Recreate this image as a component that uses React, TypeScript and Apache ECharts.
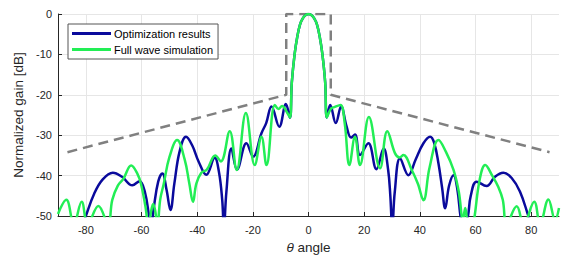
import React, { useEffect, useRef } from 'react';
import * as echarts from 'echarts';

const xTickValues = [-80, -60, -40, -20, 0, 20, 40, 60, 80];

const blueAngles = [
  -82, -80, -77, -74, -70.3, -67, -63.3, -60.7, -58.8, -57.3, -56.6, -55.6, -54, -52.5, -51, -49.6, -48.2, -46.3, -44,
  -41.8, -39.5, -36.7, -33.7, -32.2, -31, -30.4, -29.5, -27.7, -25.7, -22.3, -19.9, -16.9, -15.2, -13.3, -10.5, -8.1,
  -6.7, -6, -5, -4, -3, -2, -1, 0, 1, 2, 3, 4, 5, 6, 6.6, 7.8, 9.8, 11.7, 13.7, 15.3, 16.7, 18.5, 21.5, 24.4, 27, 28.6,
  29.4, 30.1, 31, 32.9, 35.9, 38.5, 41.3, 43.7, 45.2, 46.7, 48, 49.1, 50.5, 52.1, 53.5, 54.6, 55.8, 57.3, 58.3, 60.4,
  64, 67, 70, 73, 76, 79, 81,
];
const blueGain = [
  -54, -50, -44.5, -41, -39.3, -40.3, -42.4, -41.4, -44, -50, -53, -48, -41.5, -39.5, -43.5, -48.5, -42, -34, -30.4,
  -32.5, -36.5, -39.8, -35.6, -39, -46, -53, -44, -33.3, -38.5, -32, -35.3, -29.5, -27, -22.9, -27.9, -22.3,
  -25.7, -17, -10, -5.5, -2.5, -1, -0.25, 0, -0.25, -1, -2.5, -5.5, -10, -17, -25.6, -22.5, -27, -22.9, -27.9, -30.6, -29.8, -34.9, -32, -38.4, -33.3, -38.5,
  -45, -53, -44, -35.7, -39.9, -36, -32, -30.4, -32, -37, -43, -48.1, -42.5, -39.9, -43.5, -50, -54, -50, -45, -41.5,
  -42.6, -40.3, -39.3, -40.6, -44, -50, -54,
];

const greenAngles = [
  -90, -87, -84.3, -81.5, -79.3, -75.5, -72, -70.5, -68.5, -66.5, -63.7, -61.5, -60.2, -58.5, -57.5, -56.6, -55.8, -55,
  -54.3, -53.3, -52, -50, -47.2, -44.5, -42.8, -41.5, -40.3, -38.5, -36.5, -33.5, -31.5, -28.3, -25.8, -22.5, -19.3,
  -16.9, -15.1, -12.1, -10.8, -9.5, -8, -6.7, -6, -5, -4, -3, -2, -1, 0, 1, 2, 3, 4, 5, 6, 6.6, 8, 9.5, 11.5, 13, 14.7,
  16.7, 18.5, 21.7, 25.7, 28.3, 31.1, 32.7, 34.1, 37.1, 39.3, 41.3, 43.5, 46.7, 49.3, 52.1, 54, 55.5, 56.3, 57.2, 58.5,
  59.7, 61.5, 63.5, 66, 68.2, 69.8, 71.2, 74.8, 77.3, 81.1, 83.2, 86.2, 88.6, 90,
];
const greenGain = [
  -49.5, -46, -52, -46.5, -52, -47.5, -52, -46, -42.5, -40.8, -37.5, -39.5, -42, -48, -53, -49, -47, -49,
  -53, -46, -42, -35.5, -31.2, -36, -42, -46.5, -42, -39.3, -38.5, -35, -36.5, -29, -38.6, -24.5, -37.4,
  -30.4, -37.4, -22.5, -23.5, -22.8, -24, -25.6, -17, -10, -5.5, -2.5, -1, -0.25, 0, -0.25, -1, -2.5, -5.5, -10, -17, -25.6, -23.5, -23, -22.5, -27, -37.4,
  -30.4, -37.4, -25.5, -38.2, -29, -34.5, -35.5, -34.9, -38.6, -42, -46.1, -38, -31.2, -34, -38.6, -44, -51, -48, -52, -55,
  -50, -41, -37.4, -40, -42.8, -46, -52, -47.6, -52, -46.5, -52, -45.9, -51, -48,
];

const maskAngles = [-86.6, -8, -8, 8, 8, 86.6];
const maskGain = [-34.2, -20, 0, 0, -20, -34.2];

const FONT = 'Liberation Sans, Arial, Helvetica, sans-serif';

export default function App() {
  const ref = useRef<HTMLDivElement>(null);
  useEffect(() => {
    const chart = echarts.init(ref.current!, null, { renderer: 'svg' });
    const zip = (a: number[], b: number[]) => a.map((v, i) => [v, b[i]]);
    chart.setOption({
      animation: false,
      textStyle: { fontFamily: FONT },
      grid: { left: 58, right: 4, top: 14, bottom: 40, outerBoundsMode: 'none', containLabel: false },
      legend: {
        orient: 'vertical',
        left: 68,
        top: 24,
        padding: [3, 5, 3, 4],
        itemGap: 3,
        itemWidth: 39,
        itemHeight: 3,
        icon: 'rect',
        borderColor: '#555',
        borderWidth: 1,
        backgroundColor: '#fff',
        textStyle: { fontSize: 11, color: '#000', fontFamily: FONT, padding: [0, 0, 0, -2], lineHeight: 13 },
        data: ['Optimization results', 'Full wave simulation'],
      },
      xAxis: {
        type: 'value',
        min: -90,
        max: 90,
        name: '{i|θ} angle',
        nameLocation: 'middle',
        nameGap: 24,
        nameTextStyle: {
          fontSize: 13.5,
          color: '#262626',
          fontFamily: FONT,
          rich: { i: { fontStyle: 'italic', fontSize: 13.5, color: '#262626', fontFamily: FONT } },
        },
        axisLine: { show: true, onZero: false, lineStyle: { color: '#262626', width: 1 } },
        axisTick: { show: true, inside: true, length: 4, customValues: xTickValues, lineStyle: { color: '#262626' } },
        axisLabel: { customValues: xTickValues, fontSize: 11, color: '#262626', margin: 8, fontFamily: FONT },
        splitLine: { show: true, lineStyle: { color: '#e6e6e6', width: 1 } },
      },
      yAxis: {
        type: 'value',
        min: -50,
        max: 0,
        interval: 10,
        name: 'Normalized gain [dB]',
        nameLocation: 'middle',
        nameGap: 31,
        nameTextStyle: { fontSize: 13.5, color: '#262626', fontFamily: FONT },
        axisLine: { show: true, onZero: false, lineStyle: { color: '#262626', width: 1 } },
        axisTick: { show: true, inside: true, length: 4, lineStyle: { color: '#262626' } },
        axisLabel: { fontSize: 11, color: '#262626', margin: 6, fontFamily: FONT },
        splitLine: { show: true, lineStyle: { color: '#e6e6e6', width: 1 } },
      },
      series: [
        {
          name: 'Mask',
          type: 'line',
          data: zip(maskAngles, maskGain),
          symbol: 'none',
          lineStyle: { color: '#808080', width: 2.5, type: [10, 6] },
          z: 2,
        },
        {
          name: 'Optimization results',
          type: 'line',
          data: zip(blueAngles, blueGain),
          symbol: 'none',
          smooth: 0.4,
          clip: true,
          color: '#0a0a9c',
          lineStyle: { color: '#0a0a9c', width: 2.5 },
          z: 3,
        },
        {
          name: 'Full wave simulation',
          type: 'line',
          data: zip(greenAngles, greenGain),
          symbol: 'none',
          smooth: 0.4,
          clip: true,
          color: '#22ee55',
          lineStyle: { color: '#22ee55', width: 2.5 },
          z: 4,
        },
      ],
    });
    return () => chart.dispose();
  }, []);
  return <div ref={ref} style={{ position: 'absolute', left: 0, top: 0, width: 563, height: 256 }} />;
}
